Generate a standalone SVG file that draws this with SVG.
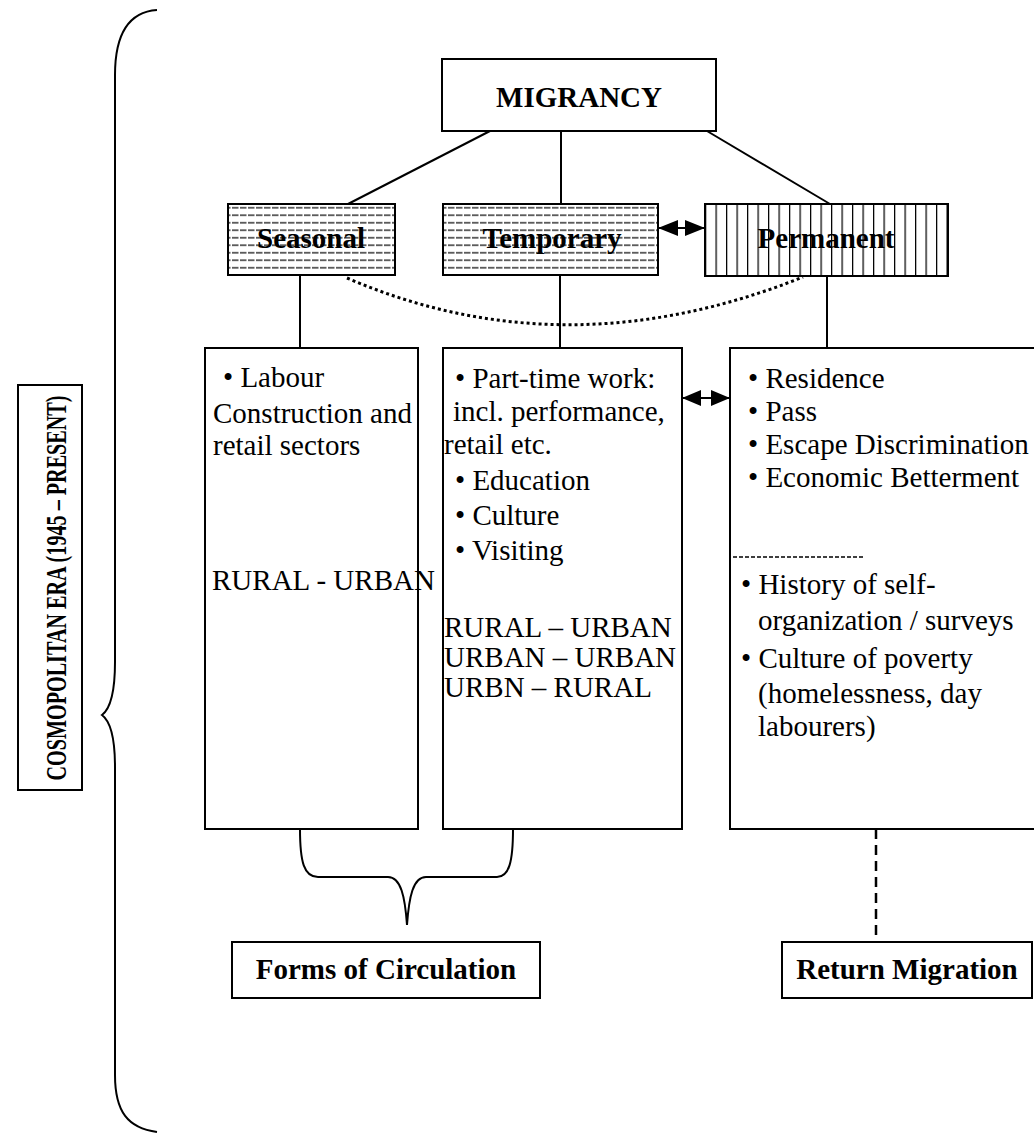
<svg xmlns="http://www.w3.org/2000/svg" width="1034" height="1140" viewBox="0 0 1034 1140">
<style>
.box{fill:#fff;stroke:#000;stroke-width:2}
.t{font-family:"Liberation Serif","Times New Roman",serif;font-size:29px;fill:#000}
.b{font-weight:bold}
.ln{stroke:#000;stroke-width:2;fill:none}
.c{text-anchor:middle}
</style>
<defs>
<pattern id="hh" patternUnits="userSpaceOnUse" x="0" y="204" width="8" height="7.5"><line x1="0" y1="3.75" x2="6.5" y2="3.75" stroke="#000" stroke-width="1.2"/></pattern>
<pattern id="vv" patternUnits="userSpaceOnUse" x="705" y="0" width="10.5" height="10"><line x1="0.6" y1="0" x2="0.6" y2="10" stroke="#000" stroke-width="1.3"/></pattern>
<marker id="ah" markerUnits="userSpaceOnUse" markerWidth="20" markerHeight="16" refX="20" refY="8" orient="auto-start-reverse"><path d="M0,0 L20,8 L0,16 Z" fill="#000"/></marker>
<marker id="ah2" markerUnits="userSpaceOnUse" markerWidth="19" markerHeight="16" refX="19" refY="8" orient="auto-start-reverse"><path d="M0,0 L19,8 L0,16 Z" fill="#000"/></marker>
</defs>

<g id="connectors">
<path class="ln" d="M157,10 C128,12 115,35 115,75 L115,662 C115,695 110,709 102,715 C110,721 115,735 115,767 L115,1075 C115,1112 128,1128 157,1132"/>
<line class="ln" x1="490" y1="131" x2="348" y2="204"/>
<line class="ln" x1="561" y1="131" x2="561" y2="204"/>
<line class="ln" x1="707" y1="131" x2="830" y2="204"/>
<line class="ln" x1="658" y1="228" x2="705" y2="228" marker-start="url(#ah)" marker-end="url(#ah)"/>
<line class="ln" x1="300" y1="275" x2="300" y2="348"/>
<line class="ln" x1="560" y1="275" x2="560" y2="348"/>
<line class="ln" x1="827" y1="276" x2="827" y2="348"/>
<path d="M347,278 Q565,372 803,277" fill="none" stroke="#000" stroke-width="3" stroke-dasharray="3,3"/>
<line class="ln" x1="682" y1="398" x2="730" y2="398" marker-start="url(#ah2)" marker-end="url(#ah2)"/>
<path class="ln" d="M300,829 C300,862 304,877 318,877 L388,877 C401,877 405,897 407,925 C409,897 413,877 426,877 L497,877 C509,877 513,862 513,829"/>
<line x1="876" y1="829" x2="876" y2="942" stroke="#000" stroke-width="2.5" stroke-dasharray="10,6"/>
</g>

<g id="era">
<rect class="box" x="18" y="385" width="64" height="405"/>
<text class="t b c" transform="translate(66,588) rotate(-90)" font-size="46" textLength="385" lengthAdjust="spacingAndGlyphs">COSMOPOLITAN ERA (1945 – PRESENT)</text>
</g>

<g id="migrancy">
<rect class="box" x="442" y="59" width="274" height="72"/>
<text class="t b c" x="579" y="107" font-size="36">MIGRANCY</text>
</g>

<g id="seasonal">
<rect class="box" x="228" y="204" width="167" height="71"/>
<rect x="229" y="205" width="165" height="69" fill="url(#hh)"/>
<text class="t b c" x="311" y="248" font-size="30">Seasonal</text>
</g>

<g id="temporary">
<rect class="box" x="443" y="204" width="215" height="71"/>
<rect x="444" y="205" width="213" height="69" fill="url(#hh)"/>
<text class="t b c" x="552" y="248" font-size="30">Temporary</text>
</g>

<g id="permanent">
<rect class="box" x="705" y="204" width="243" height="72"/>
<rect x="706" y="205" width="241" height="70" fill="url(#vv)"/>
<text class="t b c" x="826" y="248" font-size="30">Permanent</text>
</g>

<g id="seasonal-details">
<rect class="box" x="205" y="348" width="213" height="481"/>
<text class="t" x="223" y="387">• Labour</text>
<text class="t" x="213" y="423">Construction and</text>
<text class="t" x="213" y="455">retail sectors</text>
<text class="t" x="212" y="590" font-size="26">RURAL - URBAN</text>
</g>

<g id="temporary-details">
<rect class="box" x="443" y="348" width="239" height="481"/>
<text class="t" x="455" y="388">• Part-time work:</text>
<text class="t" x="453" y="421">incl. performance,</text>
<text class="t" x="444" y="454">retail etc.</text>
<text class="t" x="455" y="490">• Education</text>
<text class="t" x="455" y="525">• Culture</text>
<text class="t" x="455" y="560">• Visiting</text>
<text class="t" x="444" y="637">RURAL – URBAN</text>
<text class="t" x="444" y="667">URBAN – URBAN</text>
<text class="t" x="444" y="697">URBN – RURAL</text>
</g>

<g id="permanent-details">
<rect class="box" x="730" y="348" width="320" height="481"/>
<text class="t" x="748" y="388">• Residence</text>
<text class="t" x="748" y="421">• Pass</text>
<text class="t" x="748" y="454">• Escape Discrimination</text>
<text class="t" x="748" y="487">• Economic Betterment</text>
<line x1="733" y1="557" x2="863" y2="557" stroke="#000" stroke-width="1.5" stroke-dasharray="4,2"/>
<text class="t" x="741" y="594">• History of self-</text>
<text class="t" x="758" y="630">organization / surveys</text>
<text class="t" x="741" y="668">• Culture of poverty</text>
<text class="t" x="758" y="703">(homelessness, day</text>
<text class="t" x="758" y="736">labourers)</text>
</g>

<g id="forms">
<rect class="box" x="232" y="942" width="308" height="56"/>
<text class="t b c" x="386" y="979" font-size="28">Forms of Circulation</text>
</g>

<g id="return">
<rect class="box" x="782" y="942" width="250" height="56"/>
<text class="t b c" x="907" y="979" font-size="28">Return Migration</text>
</g>
</svg>
